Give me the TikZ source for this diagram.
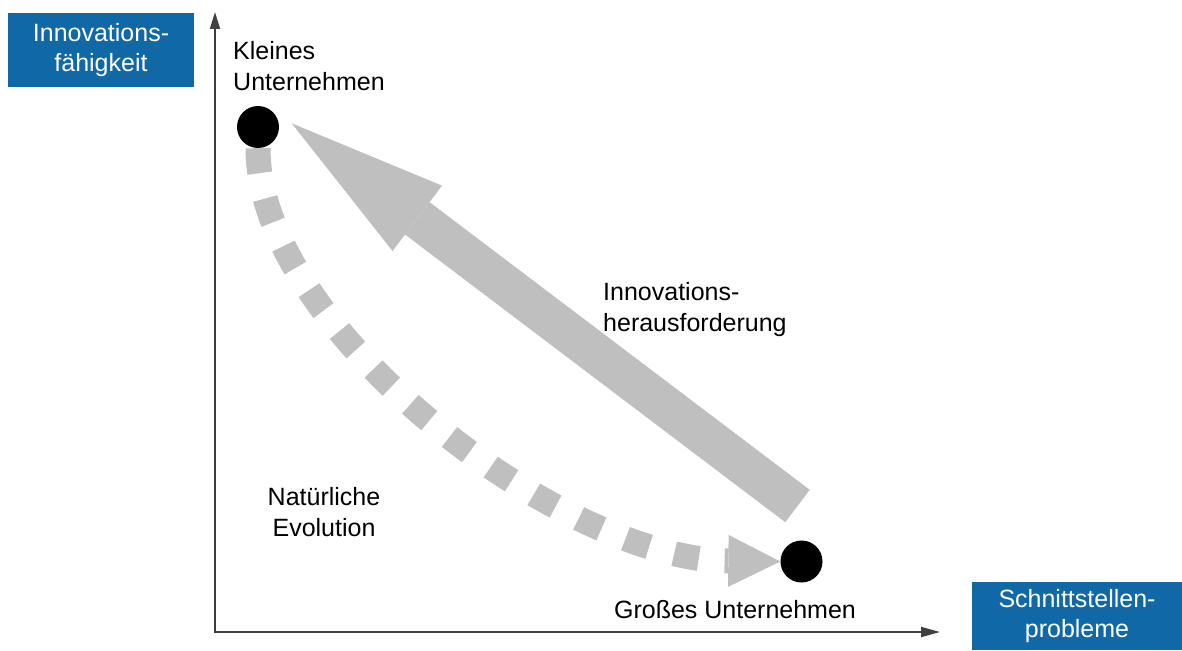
\documentclass[tikz,border=0pt]{standalone}
\usepackage{fontspec}
\setmainfont{Liberation Sans}
\usetikzlibrary{arrows.meta}
\definecolor{boxblue}{RGB}{16,104,166}
\definecolor{arrowgray}{RGB}{191,191,191}
\definecolor{axisgray}{RGB}{64,64,64}
\tikzset{
  lbl/.style={inner sep=0pt, text=black, font=\fontsize{25}{31}\selectfont},
  bluebox/.style={fill=boxblue, text=white, inner sep=0pt, align=center,
    font=\fontsize{25}{30}\selectfont},
  dot/.style={circle, fill=black, inner sep=0pt, minimum size=42pt},
  axisline/.style={draw=axisgray, line width=2pt,
    {Triangle[length=17pt,width=10pt]}-{Triangle[length=19pt,width=10pt]}},
  bigarrow/.style={draw=arrowgray, line width=40.6pt,
    -{Triangle[length=157.5pt,width=82pt,line width=0pt]}},
  evoarrow/.style={draw=arrowgray, line width=25pt, dash pattern=on 25pt off 26pt,
    -{Triangle[length=52pt,width=52pt,line width=0pt]}}
}
\begin{document}
\begin{tikzpicture}[x=1pt,y=-1pt]
\useasboundingbox (0,0) rectangle (1182,650);
% axes
\coordinate (origin) at (215,632);
\coordinate (ytop) at (215,12);
\coordinate (xend) at (940,632);
\draw[axisline] (ytop) -- (origin) -- (xend);
% axis boxes
\node[bluebox, minimum width=186pt, minimum height=74pt] (ylabel) at (101,50) {Innovations-\\fähigkeit};
\node[bluebox, minimum width=210pt, minimum height=68pt] (xlabel) at (1077,616) {Schnittstellen-\\probleme};
% big arrow
\coordinate (bigtail) at (797.5,506);
\coordinate (bigtip) at (291.7,123.3);
\draw[bigarrow] (bigtail) -- (bigtip);
% company dots
\node[dot] (klein) at (258,127) {};
\node[dot] (gross) at (801.5,561.5) {};
% natural evolution
\draw[evoarrow] (klein.south) .. controls (258,328) and (560,559) .. (gross.west);
% labels (base anchor = baseline of the last line)
\node[lbl, align=left, anchor=base west] (kleinlbl) at (233,91) {Kleines\\Unternehmen};
\node[lbl, anchor=base] (grosslbl) at (735,618.3) {Großes Unternehmen};
\node[lbl, align=left, anchor=base west] (innolbl) at (603,331.5) {Innovations-\\herausforderung};
\node[lbl, align=center, anchor=base] (natlbl) at (324,536) {Natürliche\\Evolution};
\end{tikzpicture}
\end{document}
